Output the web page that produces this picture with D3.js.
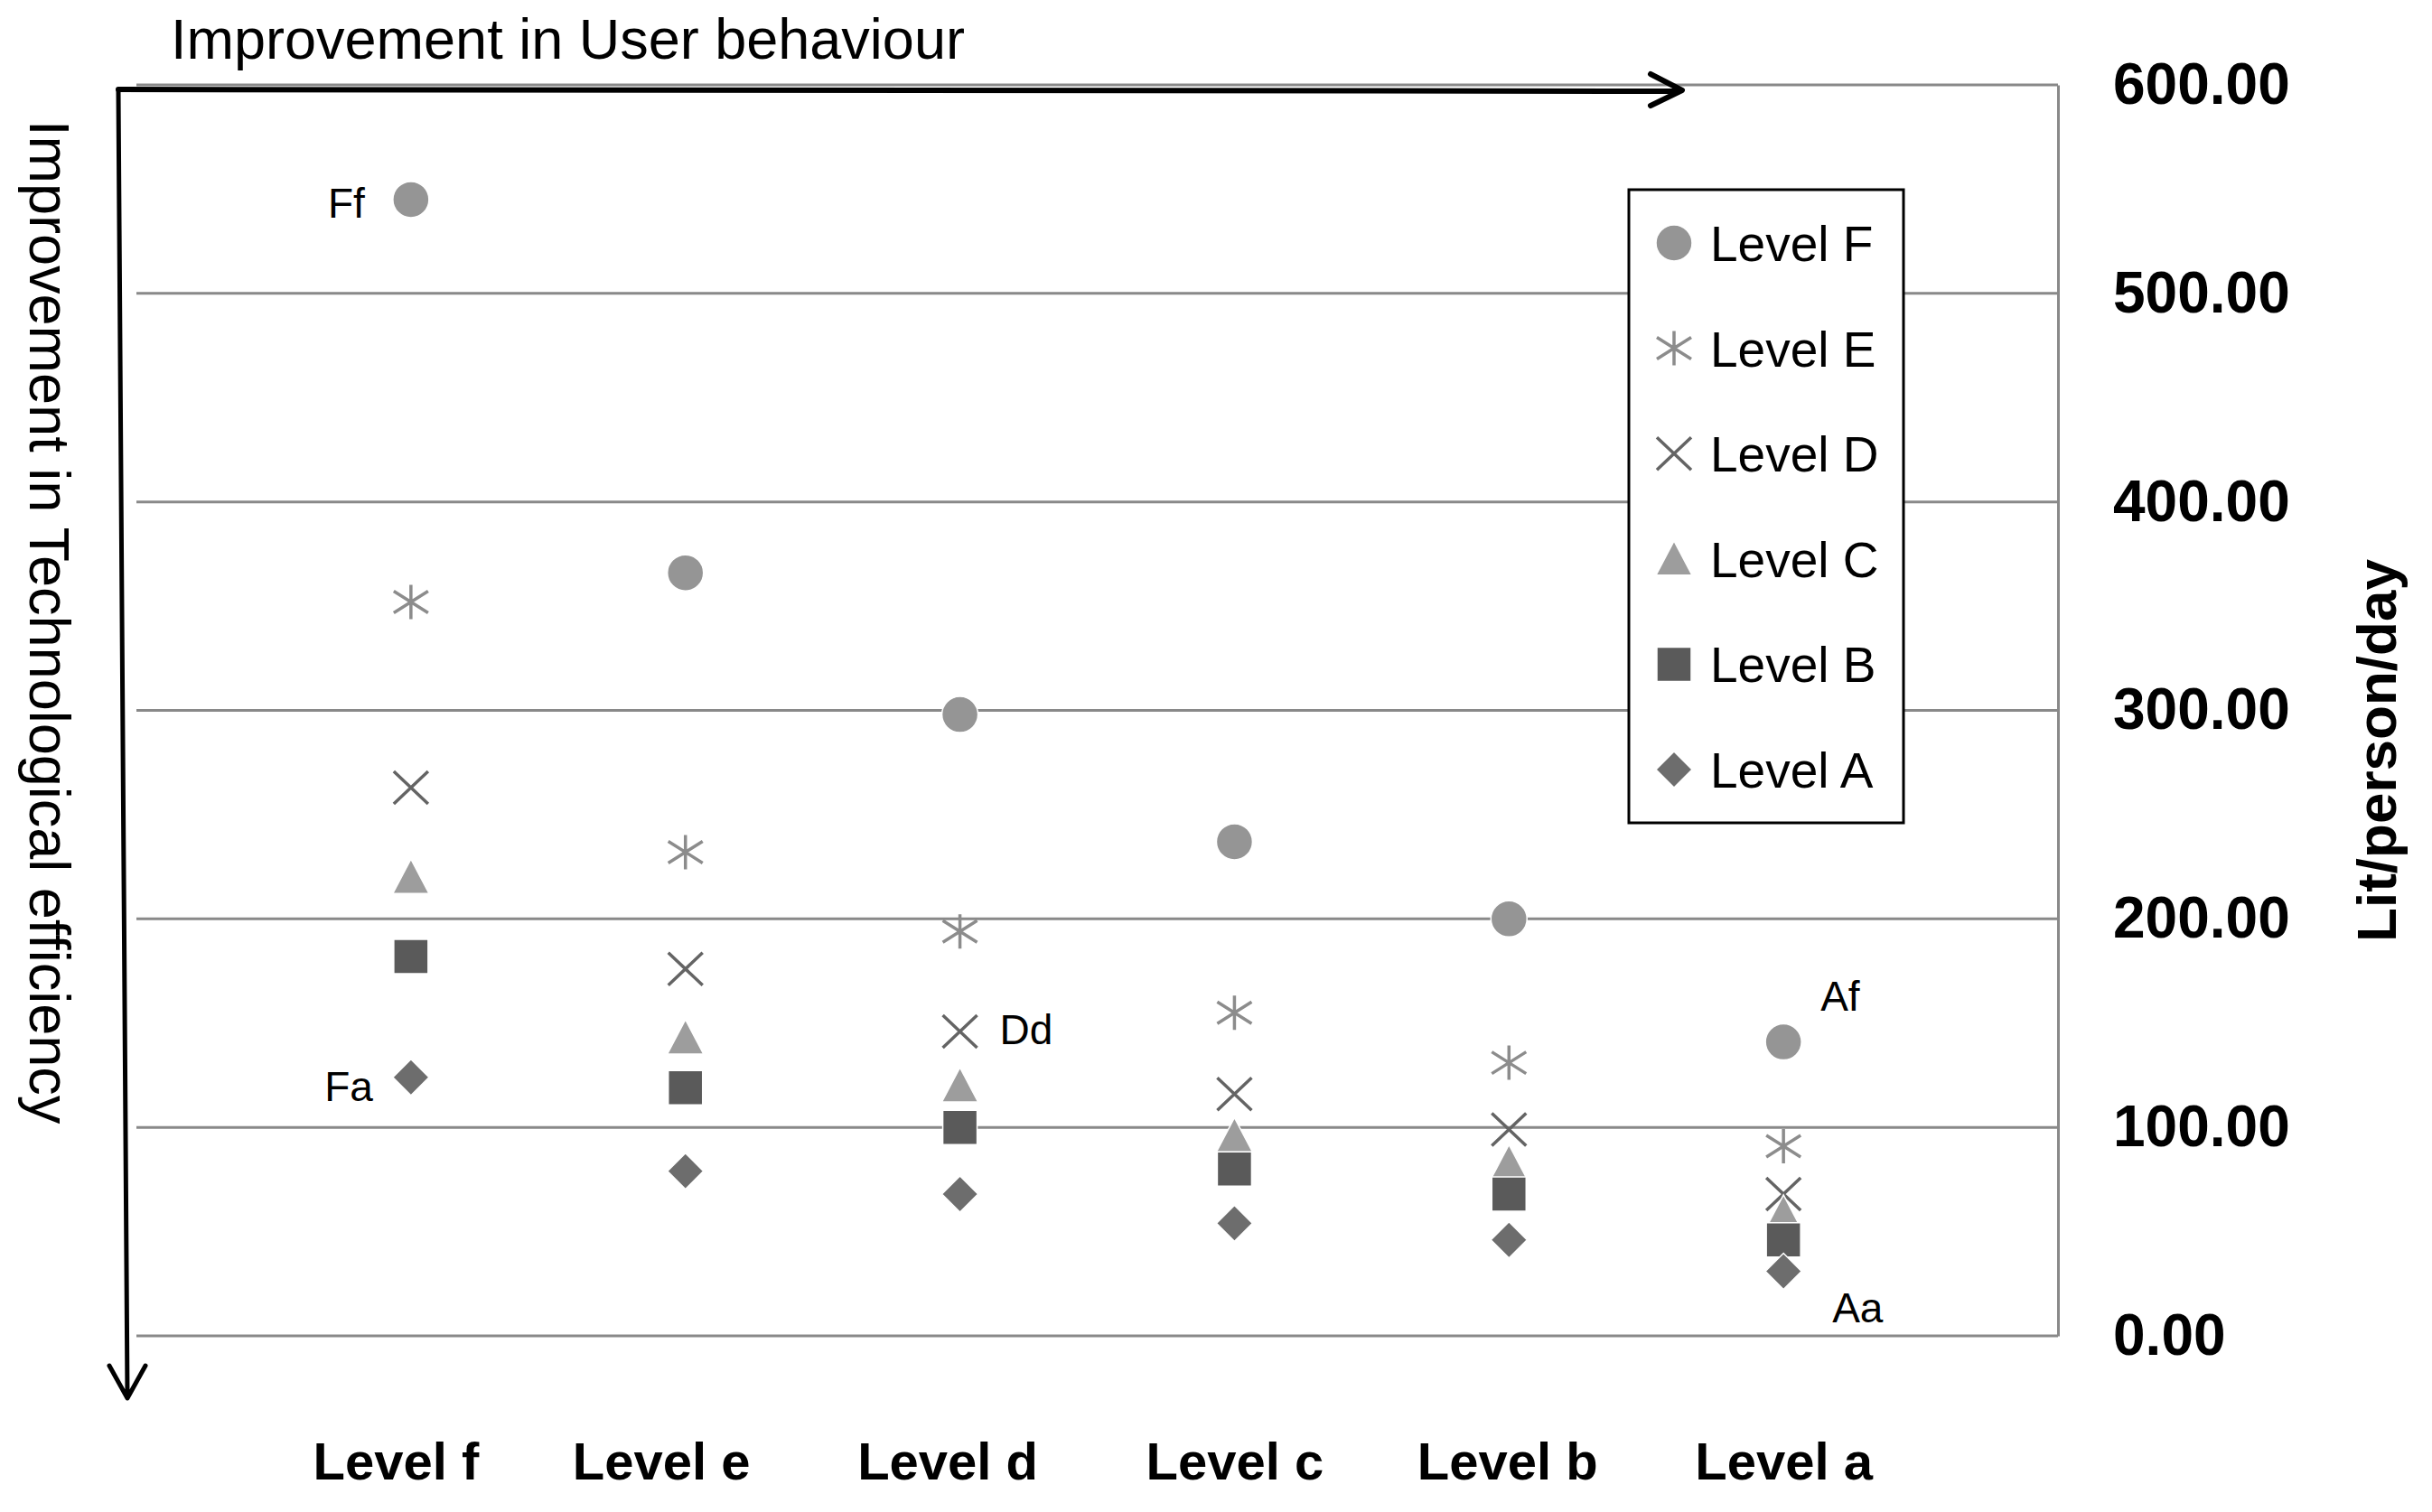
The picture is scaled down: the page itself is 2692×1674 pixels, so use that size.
<!DOCTYPE html>
<html>
<head>
<meta charset="utf-8">
<script src="https://cdn.jsdelivr.net/npm/d3@7"></script>
<style>
  body { margin: 0; background: #fff; }
  svg { display: block; }
</style>
</head>
<body>
<div id="chart"></div>
<script>
// data
const categories = ['Level f', 'Level e', 'Level d', 'Level c', 'Level b', 'Level a']
const seriesNames = ['Level F', 'Level E', 'Level D', 'Level C', 'Level B', 'Level A']
const levelF = [545, 366, 298, 237, 200, 141]
const levelE = [352, 232, 194, 155, 131, 91]
const levelD = [263, 176, 146, 116, 99, 68]
const levelC = [220, 143, 120, 96, 83, 59]
const levelB = [182, 119, 100, 80, 68, 46]
const levelA = [124, 79, 68, 54, 46, 31]
const yTicks = [0, 100, 200, 300, 400, 500, 600]
const notes = [
    { text: 'Ff', series: 0, cat: 0 },
    { text: 'Fa', series: 5, cat: 0 },
    { text: 'Dd', series: 2, cat: 2 },
    { text: 'Af', series: 0, cat: 5 },
    { text: 'Aa', series: 5, cat: 5 }
]

function WaterChart(div) {
    const width = 2692
    const height = 1674
    const plot = { left: 151, right: 2278, top: 94, bottom: 1479 }

    const svg = d3.select('#' + div).append('svg')
        .attr('width', width)
        .attr('height', height)

    const values = [levelF, levelE, levelD, levelC, levelB, levelA]
    const shapes = ['circle', 'asterisk', 'cross', 'triangle', 'square', 'diamond']
    const colors = ['#959595', '#8c8c8c', '#646464', '#9d9d9d', '#5a5a5a', '#6d6d6d']

    const xScale = d3.scaleLinear().domain([0, categories.length + 1]).range([plot.left, plot.right])
    const yScale = d3.scaleLinear().domain([0, 600]).range([plot.bottom, plot.top])

    // marker paths centred on 0,0
    function markerPath(shape) {
        const p = d3.path()
        if (shape == 'circle') { p.arc(0, 0, 20, 0, 2 * Math.PI) }
        if (shape == 'square') { p.rect(-19, -19, 38, 38) }
        if (shape == 'triangle') { p.moveTo(0, -20); p.lineTo(20, 18); p.lineTo(-20, 18); p.closePath() }
        if (shape == 'diamond') { p.moveTo(0, -20); p.lineTo(20, 0); p.lineTo(0, 20); p.lineTo(-20, 0); p.closePath() }
        if (shape == 'cross') { p.moveTo(-19, -18); p.lineTo(19, 18); p.moveTo(19, -18); p.lineTo(-19, 18) }
        if (shape == 'asterisk') {
            p.moveTo(-19, -12); p.lineTo(19, 12); p.moveTo(19, -12); p.lineTo(-19, 12)
            p.moveTo(0, -19); p.lineTo(0, 19)
        }
        return p.toString()
    }
    const isLine = s => s == 'cross' || s == 'asterisk'

    function drawMarker(g, i) {
        const s = shapes[i]
        g.append('path')
            .attr('d', markerPath(s))
            .attr('fill', isLine(s) ? 'none' : colors[i])
            .attr('stroke', isLine(s) ? colors[i] : '#ffffff')
            .attr('stroke-width', isLine(s) ? 3.5 : 1.5)
    }

    // grid lines
    svg.append('g')
        .selectAll('line')
        .data(yTicks)
        .join('line')
        .attr('x1', plot.left)
        .attr('x2', plot.right)
        .attr('y1', d => yScale(d))
        .attr('y2', d => yScale(d))
        .attr('stroke', '#898989')
        .attr('stroke-width', 3)

    // right value axis
    const yAxis = svg.append('g')
        .attr('transform', 'translate(' + plot.right + ',0)')
        .call(d3.axisRight(yScale).tickValues(yTicks).tickFormat(d3.format('.2f')).tickSize(0).tickSizeOuter(0).tickPadding(61))
    yAxis.select('.domain').attr('stroke', '#898989').attr('stroke-width', 3)
    yAxis.selectAll('text')
        .attr('font-family', 'Liberation Sans, Arial, sans-serif')
        .attr('font-weight', 'bold')
        .attr('font-size', 64)
        .attr('fill', '#000')

    svg.append('text')
        .attr('transform', 'translate(2652,831) rotate(-90)')
        .attr('text-anchor', 'middle')
        .attr('font-family', 'Liberation Sans, Arial, sans-serif')
        .attr('font-weight', 'bold')
        .attr('font-size', 62)
        .text('Lit/person/day')

    // category labels (text boxes in the original sit a little left of the points)
    const labelShift = [-17, -27, -14, 0, -2, 0]
    const xAxis = svg.append('g')
        .attr('transform', 'translate(0,1638)')
        .call(d3.axisBottom(xScale).tickValues(d3.range(1, categories.length + 1)).tickFormat(d => categories[d - 1]).tickSize(0))
    xAxis.select('.domain').remove()
    xAxis.selectAll('text')
        .attr('x', (d, i) => labelShift[i])
        .attr('y', 0)
        .attr('dy', 0)
        .attr('font-family', 'Liberation Sans, Arial, sans-serif')
        .attr('font-weight', 'bold')
        .attr('font-size', 58)
        .attr('fill', '#000')

    // points
    values.forEach((vals, i) => {
        const g = svg.append('g')
        vals.forEach((v, j) => {
            const m = g.append('g').attr('transform', 'translate(' + xScale(j + 1) + ',' + yScale(v) + ')')
            drawMarker(m, i)
        })
    })

    // point notes
    const noteOffset = { Ff: [-51, 20, 'end'], Fa: [-42, 26, 'end'], Dd: [44, 14, 'start'], Af: [41, -35, 'start'], Aa: [54, 57, 'start'] }
    notes.forEach(n => {
        const o = noteOffset[n.text]
        svg.append('text')
            .attr('x', xScale(n.cat + 1) + o[0])
            .attr('y', yScale(values[n.series][n.cat]) + o[1])
            .attr('text-anchor', o[2])
            .attr('font-family', 'Liberation Sans, Arial, sans-serif')
            .attr('font-size', 46)
            .text(n.text)
    })

    // legend
    const legend = svg.append('g')
    legend.append('rect')
        .attr('x', 1803).attr('y', 210).attr('width', 304).attr('height', 701)
        .attr('fill', '#fff').attr('stroke', '#000').attr('stroke-width', 3)
    seriesNames.forEach((name, i) => {
        const cy = 269 + i * 116.6
        drawMarker(legend.append('g').attr('transform', 'translate(1853,' + cy + ')'), i)
        legend.append('text')
            .attr('x', 1893)
            .attr('y', cy + 20)
            .attr('font-family', 'Liberation Sans, Arial, sans-serif')
            .attr('font-size', 55)
            .text(name)
    })

    // direction arrows
    svg.append('path')
        .attr('d', 'M131,99 L1860,101 M1827,82 L1862,100 L1827,117')
        .attr('fill', 'none').attr('stroke', '#000').attr('stroke-width', 6)
        .attr('stroke-linecap', 'round').attr('stroke-linejoin', 'round')
    svg.append('path')
        .attr('d', 'M131,99 L141,1546 M121,1512 L141,1548 L161,1512')
        .attr('fill', 'none').attr('stroke', '#000').attr('stroke-width', 5)
        .attr('stroke-linecap', 'round').attr('stroke-linejoin', 'round')

    svg.append('text')
        .attr('x', 189)
        .attr('y', 65)
        .attr('font-family', 'Liberation Sans, Arial, sans-serif')
        .attr('font-size', 63)
        .text('Improvement in User behaviour')

    svg.append('text')
        .attr('transform', 'translate(33,133) rotate(90)')
        .attr('font-family', 'Liberation Sans, Arial, sans-serif')
        .attr('font-size', 63)
        .text('Improvement in Technological efficiency')
}

WaterChart('chart')
</script>
</body>
</html>
